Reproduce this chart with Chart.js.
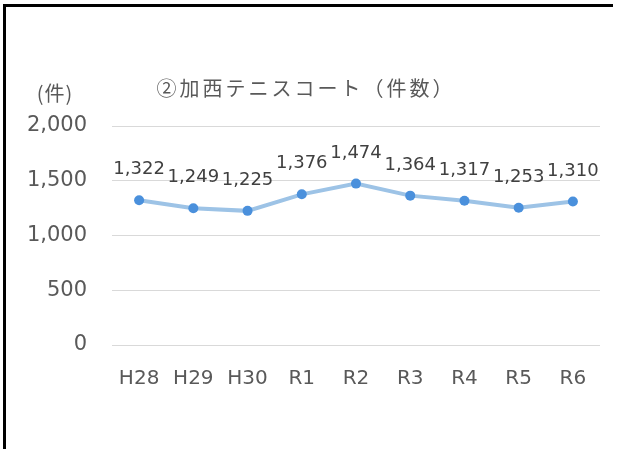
<!DOCTYPE html>
<html>
<head>
<meta charset="utf-8">
<script src="https://cdn.jsdelivr.net/npm/chart.js@4"></script>
<style>
  body { margin: 0; background: #fff; }
  #wrap { position: relative; width: 622px; height: 449px; }
  #frame { position: absolute; left: 3px; top: 4px; width: 607px; height: 445px;
           border-top: 3px solid #000; border-left: 3px solid #000; }
  canvas { position: absolute; left: 0; top: 0; }
</style>
</head>
<body>
<div id="wrap">
  <canvas id="grafico" width="622" height="449"></canvas>
  <div id="frame"></div>
</div>
<script>
var anni = ['H28', 'H29', 'H30', 'R1', 'R2', 'R3', 'R4', 'R5', 'R6'];
var utenti = [1322, 1249, 1225, 1376, 1474, 1364, 1317, 1253, 1310];
var yTicks = [0, 500, 1000, 1500, 2000];
var titolo = '②加西テニスコート（件数）';
var unita = '(件)';

var numFont = '"DejaVu Sans", Verdana, sans-serif';
var jpFont = '"Noto Sans CJK JP", sans-serif';

function virgole(v) {
    return v.toString().replace(/\B(?=(\d{3})+(?!\d))/g, ',');
}

// etichette sopra i punti
var etichette = {
    id: 'etichette',
    afterDatasetsDraw: function (chart) {
        var ctx = chart.ctx;
        var meta = chart.getDatasetMeta(0);
        ctx.save();
        ctx.font = '18px ' + numFont;
        ctx.fillStyle = '#404040';
        ctx.textAlign = 'center';
        ctx.textBaseline = 'alphabetic';
        meta.data.forEach(function (p, i) {
            ctx.fillText(virgole(utenti[i]), p.x, p.y - 26);
        });
        ctx.restore();
    }
};

// titolo e unita
var testi = {
    id: 'testi',
    afterDraw: function (chart) {
        var ctx = chart.ctx;
        ctx.save();
        ctx.fillStyle = '#595959';
        ctx.textBaseline = 'middle';
        ctx.font = '20px ' + jpFont;
        ctx.textAlign = 'center';
        if ('letterSpacing' in ctx) ctx.letterSpacing = '3px';
        ctx.fillText(titolo, 306, 88);
        if ('letterSpacing' in ctx) ctx.letterSpacing = '1px';
        ctx.font = '20px ' + jpFont;
        ctx.fillText(unita, 55, 93);
        ctx.restore();
    }
};

var ctx = document.getElementById('grafico');
var chart = new Chart(ctx, {
    type: 'line',
    data: {
        labels: anni,
        datasets: [{
            data: utenti,
            borderColor: '#9dc3e6',
            borderWidth: 4,
            pointBackgroundColor: '#4a90dc',
            pointBorderColor: '#4a90dc',
            pointRadius: 5,
            pointBorderWidth: 0,
            tension: 0
        }]
    },
    options: {
        responsive: false,
        animation: false,
        layout: { padding: { top: 126, left: 0, right: 22, bottom: 0 } },
        plugins: {
            legend: { display: false },
            tooltip: { enabled: false }
        },
        scales: {
            x: {
                offset: true,
                grid: { display: false },
                border: { display: false },
                ticks: { color: '#595959', font: { family: numFont, size: 20 }, padding: 14 },
                afterFit: function (s) { s.height = 104; }
            },
            y: {
                min: 0,
                max: 2000,
                afterBuildTicks: function (s) {
                    s.ticks = yTicks.map(function (v) { return { value: v }; });
                },
                grid: { color: '#d9d9d9', lineWidth: 1, drawTicks: false },
                border: { display: false },
                ticks: {
                    color: '#595959',
                    font: { family: numFont, size: 21 },
                    padding: 25,
                    callback: function (v) { return virgole(v); }
                },
                afterFit: function (s) { s.width = 112; }
            }
        }
    },
    plugins: [etichette, testi]
});
</script>
</body>
</html>
